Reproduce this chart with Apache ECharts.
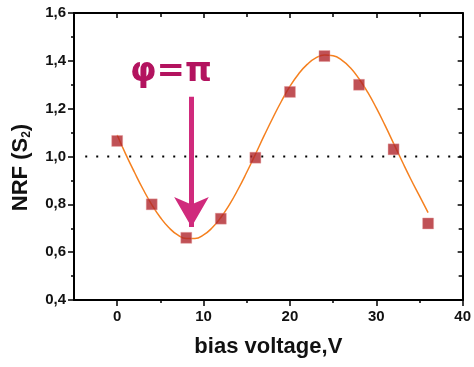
<!DOCTYPE html>
<html>
<head>
<meta charset="utf-8">
<script src="https://cdn.jsdelivr.net/npm/echarts@6/dist/echarts.min.js"></script>
<style>
  html, body { margin: 0; padding: 0; background: #fff; }
  #main { width: 474px; height: 367px; }
</style>
</head>
<body>
<div id="main"></div>
<script>
// measured points (bias voltage, NRF)
var voltage = [0, 4, 8, 12, 16, 20, 24, 28, 32, 36];
var nrf = [1.065, 0.80, 0.66, 0.74, 0.995, 1.27, 1.42, 1.30, 1.03, 0.72];

// fitted curve
var fitX = [0, 1, 2, 3, 4, 5, 6, 7, 8, 9, 10, 11, 12, 13, 14, 15, 16, 17, 18,
  19, 20, 21, 22, 23, 24, 25, 26, 27, 28, 29, 30, 31, 32, 33, 34, 35, 36];
var fitY = [1.09, 1.009, 0.934, 0.863, 0.799, 0.745, 0.702, 0.672, 0.657, 0.657,
  0.672, 0.702, 0.745, 0.799, 0.863, 0.934, 1.009, 1.086, 1.160, 1.230, 1.293,
  1.345, 1.385, 1.412, 1.424, 1.421, 1.403, 1.371, 1.325, 1.269, 1.203, 1.131,
  1.055, 0.979, 0.905, 0.835, 0.765];

// reference line at 1.0 and the phi = pi arrow
var refLine = [[-3.7, 1.0], [40, 1.0]];
var arrowX = 8.6;
var arrowY = [1.25, 0.705];

var xMajor = [0, 10, 20, 30, 40];
var xMinor = [5, 15, 25, 35];

var chart = echarts.init(document.getElementById('main'));

function comma(v) {
  return v.toFixed(1).replace('.', ',');
}

var FONT = 'Liberation Sans, Arial, sans-serif';

var labelFont = {
  fontFamily: FONT,
  fontWeight: 'bold',
  fontSize: 15,
  color: '#111'
};

var axisLineStyle = { onZero: false, lineStyle: { color: '#000', width: 2 } };
var tickStyle = { color: '#000', width: 1.5 };

var option = {
  animation: false,
  grid: { left: 74, right: 9, top: 13, bottom: 67 },
  xAxis: [
    {
      type: 'value', position: 'bottom', min: -5, max: 40, interval: 5,
      axisLine: axisLineStyle,
      axisTick: { customValues: xMajor, length: 6, lineStyle: tickStyle },
      axisLabel: Object.assign({ customValues: xMajor, margin: 9 }, labelFont),
      splitLine: { show: false },
      name: 'bias voltage,V', nameLocation: 'middle', nameGap: 36,
      nameTextStyle: { fontFamily: FONT, fontWeight: 'bold', fontSize: 22, color: '#111' }
    },
    {
      type: 'value', position: 'bottom', min: -5, max: 40, interval: 5,
      axisLine: { show: false, onZero: false },
      axisTick: { customValues: xMinor, length: 3, lineStyle: tickStyle },
      axisLabel: { show: false },
      splitLine: { show: false }
    },
    {
      type: 'value', position: 'top', min: -5, max: 40, interval: 5,
      axisLine: axisLineStyle,
      axisTick: { customValues: xMajor, inside: true, length: 5, lineStyle: tickStyle },
      axisLabel: { show: false },
      splitLine: { show: false }
    },
    {
      type: 'value', position: 'top', min: -5, max: 40, interval: 5,
      axisLine: { show: false, onZero: false },
      axisTick: { customValues: xMinor, inside: true, length: 4, lineStyle: tickStyle },
      axisLabel: { show: false },
      splitLine: { show: false }
    }
  ],
  yAxis: [
    {
      type: 'value', position: 'left', min: 0.4, max: 1.6, interval: 0.2,
      axisLine: axisLineStyle,
      axisTick: { length: 6, lineStyle: tickStyle },
      minorTick: { show: true, splitNumber: 2, length: 3, lineStyle: tickStyle },
      axisLabel: Object.assign({ formatter: comma, margin: 8 }, labelFont),
      splitLine: { show: false },
      name: 'NRF (S{sub|2})', nameLocation: 'middle', nameGap: 41,
      nameTextStyle: {
        fontFamily: FONT, fontWeight: 'bold', fontSize: 22, color: '#111',
        padding: [0, 22, 0, 0],
        rich: {
          sub: { fontFamily: FONT, fontWeight: 'bold', fontSize: 12, color: '#111', padding: [12, 0, 0, 0] }
        }
      }
    },
    {
      type: 'value', position: 'right', min: 0.4, max: 1.6, interval: 0.2,
      axisLine: axisLineStyle,
      axisTick: { inside: true, length: 5, lineStyle: tickStyle },
      minorTick: { show: true, splitNumber: 2, length: 4, lineStyle: tickStyle },
      axisLabel: { show: false },
      splitLine: { show: false }
    }
  ],
  graphic: [
    {
      type: 'text', left: 130, top: 55,
      style: {
        text: 'φ=π',
        fontFamily: 'DejaVu Sans, sans-serif',
        fontSize: 34,
        fontWeight: 'bold',
        fill: '#b3135f'
      }
    }
  ],
  series: [
    {
      type: 'line',
      data: refLine,
      symbol: 'none',
      silent: true,
      lineStyle: { color: '#000', width: 2, type: [2, 9] },
      z: 1
    },
    {
      type: 'line',
      data: fitX.map(function (x, i) { return [x, fitY[i]]; }),
      smooth: true,
      symbol: 'none',
      lineStyle: { color: '#f5801f', width: 1.5 },
      z: 2
    },
    {
      type: 'scatter',
      data: voltage.map(function (x, i) { return [x, nrf[i]]; }),
      symbol: 'rect',
      symbolSize: 11,
      itemStyle: { color: '#b0252c', borderColor: '#e8a0a0', borderWidth: 0.5 },
      z: 3,
      markLine: {
        silent: true,
        symbol: ['none', 'arrow'],
        symbolSize: [26, 30],
        label: { show: false },
        lineStyle: { color: '#d02a7c', width: 5, type: 'solid' },
        data: [[{ coord: [arrowX, arrowY[0]] }, { coord: [arrowX, arrowY[1]] }]]
      }
    }
  ]
};

chart.setOption(option);
</script>
</body>
</html>
